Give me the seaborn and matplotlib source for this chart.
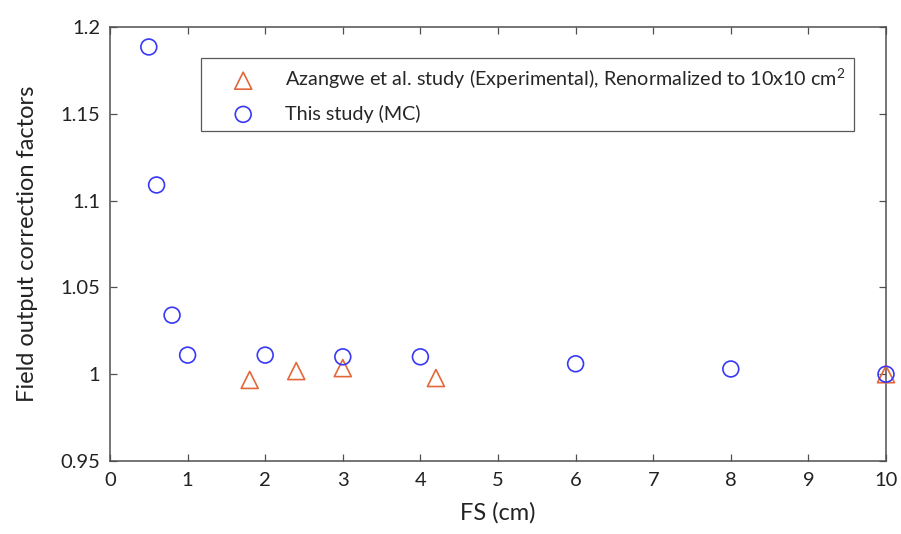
import matplotlib
matplotlib.use("Agg")
import matplotlib.pyplot as plt
import seaborn as sns
import pandas as pd

# data
mc_fs = [0.5, 0.6, 0.8, 1.0, 2.0, 3.0, 4.0, 6.0, 8.0, 10.0]
mc_k = [1.1885, 1.109, 1.034, 1.011, 1.011, 1.010, 1.010, 1.006, 1.003, 1.000]
exp_fs = [1.8, 2.4, 3.0, 4.2, 10.0]
exp_k = [0.9967, 1.0018, 1.0035, 0.9978, 1.000]
xticks = list(range(0, 11))
yticks = [0.95, 1.0, 1.05, 1.1, 1.15, 1.2]
ytick_labels = ["0.95", "1", "1.05", "1.1", "1.15", "1.2"]
label_exp = "Azangwe et al. study (Experimental), Renormalized to 10x10 cm$^2$"
label_mc = "This study (MC)"

sns.set_style("white")
plt.rcParams['font.family'] = ['Lato', 'DejaVu Sans']
plt.rcParams['mathtext.fontset'] = 'custom'
plt.rcParams['mathtext.rm'] = 'Lato'
plt.rcParams['mathtext.it'] = 'Lato'

fig = plt.figure(figsize=(9.01, 5.34), dpi=100)
ax = fig.add_axes([110/901, 1-461/534, 776/901, 434/534])

df_exp = pd.DataFrame({"FS": exp_fs, "k": exp_k})
df_mc = pd.DataFrame({"FS": mc_fs, "k": mc_k})

sns.scatterplot(data=df_exp, x="FS", y="k", ax=ax, marker="^", s=150,
                facecolor="none", edgecolor="#E2683A", linewidth=1.2,
                label=label_exp, zorder=3, clip_on=False)
sns.scatterplot(data=df_mc, x="FS", y="k", ax=ax, marker="o", s=130,
                facecolor="none", edgecolor="#3838F5", linewidth=1.2,
                label=label_mc, zorder=3, clip_on=False)

ax.set_xlim(0, 10)
ax.set_ylim(0.95, 1.2)
ax.set_xticks(xticks)
ax.set_xticklabels([str(t) for t in xticks])
ax.set_yticks(yticks)
ax.set_yticklabels(ytick_labels)
ax.tick_params(direction="in", length=5, width=0.9, color="#505050",
               labelsize=14.5, labelcolor="#222222", top=True, right=True,
               bottom=True, left=True)
ax.tick_params(axis="x", pad=8)
ax.tick_params(axis="y", pad=7)
for s in ax.spines.values():
    s.set_color("#505050")
    s.set_linewidth(1.1)
ax.set_xlabel("FS (cm)", fontsize=17, color="#222222", labelpad=9)
ax.set_ylabel("Field output correction factors", fontsize=17, color="#222222", labelpad=16)

leg = ax.legend(loc="upper left", bbox_to_anchor=(0.117, 0.9286), fontsize=14.2,
                frameon=True, fancybox=False, edgecolor="#303030",
                handletextpad=0.4, borderpad=0.45, labelspacing=0.68,
                borderaxespad=0, handlelength=3.4)
leg.get_frame().set_linewidth(0.9)

fig.savefig("out.png", dpi=100)
